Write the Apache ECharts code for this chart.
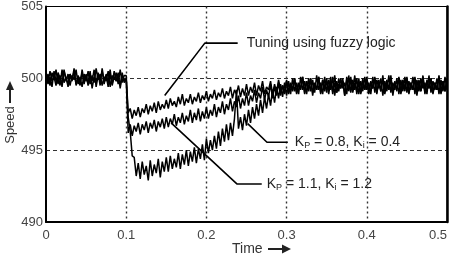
<!DOCTYPE html>
<html>
<head>
<meta charset="utf-8">
<script src="https://cdn.jsdelivr.net/npm/echarts@6/dist/echarts.min.js"></script>
<style>html,body{margin:0;padding:0;background:#fff}#c{width:454px;height:259px}</style>
</head>
<body>
<div id="c"></div>
<script>
// sample times (s)
var sampleTimes = [
0,0.0025,0.005,0.0075,0.01,0.0125,0.015,0.0175,0.02,0.0225,0.025,0.0275,0.03,0.0325,0.035,0.0375,0.04,0.0425,0.045,0.0475,
0.05,0.0525,0.055,0.0575,0.06,0.0625,0.065,0.0675,0.07,0.0725,0.075,0.0775,0.08,0.0825,0.085,0.0875,0.09,0.0925,0.095,0.0975,
0.1,0.1025,0.105,0.1075,0.11,0.1125,0.115,0.1175,0.12,0.1225,0.125,0.1275,0.13,0.1325,0.135,0.1375,0.14,0.1425,0.145,0.1475,
0.15,0.1525,0.155,0.1575,0.16,0.1625,0.165,0.1675,0.17,0.1725,0.175,0.1775,0.18,0.1825,0.185,0.1875,0.19,0.1925,0.195,0.1975,
0.2,0.2025,0.205,0.2075,0.21,0.2125,0.215,0.2175,0.22,0.2225,0.225,0.2275,0.23,0.2325,0.235,0.2375,0.24,0.2425,0.245,0.2475,
0.25,0.2525,0.255,0.2575,0.26,0.2625,0.265,0.2675,0.27,0.2725,0.275,0.2775,0.28,0.2825,0.285,0.2875,0.29,0.2925,0.295,0.2975,
0.3,0.3025,0.305,0.3075,0.31,0.3125,0.315,0.3175,0.32,0.3225,0.325,0.3275,0.33,0.3325,0.335,0.3375,0.34,0.3425,0.345,0.3475,
0.35,0.3525,0.355,0.3575,0.36,0.3625,0.365,0.3675,0.37,0.3725,0.375,0.3775,0.38,0.3825,0.385,0.3875,0.39,0.3925,0.395,0.3975,
0.4,0.4025,0.405,0.4075,0.41,0.4125,0.415,0.4175,0.42,0.4225,0.425,0.4275,0.43,0.4325,0.435,0.4375,0.44,0.4425,0.445,0.4475,
0.45,0.4525,0.455,0.4575,0.46,0.4625,0.465,0.4675,0.47,0.4725,0.475,0.4775,0.48,0.4825,0.485,0.4875,0.49,0.4925,0.495,0.4975,
0.5];
// speed, tuning using fuzzy logic
var speedFuzzy = [
500.2,499.7,500.5,499.8,500.1,499.5,500.4,500.0,499.6,500.6,499.8,500.3,499.5,500.2,499.9,500.6,499.6,500.1,499.4,500.3,
499.8,500.5,499.6,500.2,499.7,500.7,499.9,500.3,499.5,500.1,499.8,500.5,499.4,500.2,499.9,500.4,499.6,500.6,499.7,500.2,
500.2,497.6,497.9,497.2,497.8,497.4,498.0,497.3,497.9,497.6,498.2,497.5,498.1,497.7,498.3,497.6,498.4,497.8,498.2,497.9,
498.5,497.9,498.6,498.1,498.4,498.0,498.7,498.2,498.9,498.1,498.6,498.3,498.9,498.2,498.7,498.4,499.0,498.3,498.8,498.5,
499.1,498.4,498.9,498.6,499.2,498.5,499.0,498.7,499.3,498.6,499.1,498.8,499.4,498.6,499.2,498.9,499.5,498.7,499.3,498.8,
499.6,498.8,499.4,499.0,499.7,498.8,499.5,499.1,499.8,498.9,499.4,499.2,499.8,498.9,499.6,499.0,499.9,499.1,499.5,499.0,
499.9,499.0,499.7,499.2,500.0,498.9,499.6,499.3,500.1,499.0,499.8,499.1,500.0,498.8,499.7,499.2,500.1,499.0,499.9,499.3,
500.0,498.9,499.8,499.1,500.2,499.0,499.6,499.3,500.0,498.8,499.9,499.2,500.1,499.0,499.7,499.1,500.0,498.9,499.8,499.2,
500.1,499.0,499.7,499.3,500.0,498.9,499.9,499.1,500.2,499.0,499.6,499.2,500.0,498.8,499.8,499.1,500.1,499.0,499.9,499.3,
500.0,498.9,499.7,499.2,500.1,499.0,499.8,499.1,500.2,498.9,499.9,499.3,500.0,499.0,499.7,499.2,500.1,498.9,499.8,499.1,
500.0];
// speed, curve pointed at by "Kp = 1.1, Ki = 1.2"
var speedMid = [
499.7,500.3,499.5,500.4,499.9,500.6,499.6,500.2,499.4,500.5,500.0,499.6,500.3,499.8,500.7,499.5,500.2,499.7,500.4,499.6,
500.3,499.5,500.1,499.8,500.6,499.4,500.2,499.9,500.5,499.6,500.3,499.7,500.6,499.5,500.1,499.8,500.4,499.3,500.2,499.9,
499.9,496.2,496.8,496.0,496.7,496.3,496.9,496.1,496.8,496.4,497.0,496.2,496.9,496.5,497.1,496.3,497.0,496.6,497.2,496.5,
497.3,496.6,497.2,496.8,497.5,496.7,497.3,496.9,497.6,496.8,497.4,497.0,497.8,496.9,497.6,497.1,497.9,497.0,497.7,497.2,
498.0,497.2,497.8,497.4,498.2,497.3,498.0,497.6,498.4,497.5,498.2,497.8,498.6,497.7,498.4,498.0,498.8,497.9,498.6,498.1,
499.0,498.1,498.8,498.4,499.2,498.3,499.0,498.6,499.4,498.5,499.2,498.7,499.6,498.6,499.4,498.8,499.7,498.8,499.5,498.9,
499.8,498.9,499.6,499.1,500.0,499.0,499.7,499.2,500.1,498.9,499.8,499.3,500.0,499.0,499.6,499.2,500.1,498.9,499.9,499.1,
499.8,499.2,500.1,498.9,499.7,499.0,500.0,499.3,499.8,498.8,500.1,499.1,499.9,499.2,500.2,498.9,499.7,499.0,500.0,499.2,
499.9,498.9,499.8,499.3,500.1,499.0,499.7,499.1,500.0,498.9,499.9,499.2,500.2,499.0,499.6,499.3,500.0,498.9,499.8,499.1,
500.1,499.0,499.7,499.2,500.0,498.8,499.9,499.1,500.1,499.0,499.8,499.3,500.0,498.9,499.7,499.2,500.2,499.0,499.8,499.1,
499.9];
// speed, curve pointed at by "Kp = 0.8, Ki = 0.4"
var speedLow = [
500.4,499.6,500.1,499.4,500.5,499.8,500.2,499.5,500.6,499.7,500.1,499.4,500.3,499.9,500.5,499.6,500.0,499.5,500.6,499.8,
500.2,499.6,500.5,499.3,500.1,499.7,500.4,499.5,500.7,499.8,500.2,499.4,500.3,499.6,500.5,499.9,500.1,499.5,500.4,499.7,
500.0,497.3,496.3,494.6,494.5,493.2,494.1,493.0,494.2,493.3,493.9,492.9,494.3,493.2,494.0,493.4,494.4,493.1,494.2,493.5,
494.5,493.5,494.6,493.7,494.4,493.8,494.8,493.7,494.7,494.0,495.0,493.9,494.9,494.2,495.2,494.1,495.1,494.4,495.4,494.3,
495.8,494.8,495.7,495.0,496.0,495.1,496.3,495.3,496.5,495.6,496.8,495.7,496.9,496.0,497.2,499.2,496.5,497.3,496.4,497.5,
496.7,497.8,496.9,498.0,497.2,498.2,497.4,498.5,497.6,498.7,497.9,498.9,498.1,499.2,498.3,499.4,498.6,499.6,498.7,499.7,
498.8,499.8,498.9,500.0,499.1,499.7,498.9,500.1,499.2,499.8,498.9,500.0,499.1,499.9,499.0,500.2,499.2,499.7,498.9,500.1,
499.0,499.9,499.2,500.1,498.8,499.8,499.1,500.0,499.3,499.7,498.9,500.2,499.0,499.9,499.2,500.0,498.9,499.8,499.1,500.1,
499.2,499.7,498.9,500.1,499.0,499.9,499.3,500.0,498.8,499.8,499.1,500.2,499.0,499.7,499.2,500.0,498.9,499.9,499.1,500.1,
499.0,499.8,499.2,500.1,498.9,499.9,499.1,500.0,499.3,499.7,498.9,500.2,499.0,499.8,499.2,500.0,498.9,499.9,499.1,500.1,
499.2];
// annotation pointers (data coordinates)
var pointerFuzzy = [[0.148,498.8],[0.198,502.45],[0.239,502.45]];
var pointerKp11 = [[0.156,496.9],[0.238,492.65],[0.269,492.65]];
var pointerKp08 = [[0.2515,496.85],[0.2755,495.55],[0.3015,495.55]];
var labelFuzzy = 'Tuning using fuzzy logic';
var labelKp11 = '{k|K}{s|P} = 1.1, {k|K}{s|i} = 1.2';
var labelKp08 = '{k|K}{s|P} = 0.8, {k|K}{s|i} = 0.4';
var xTicks = {min:0, max:0.5, step:0.1};
var yTicks = {min:490, max:505, step:5};

[speedFuzzy,speedMid,speedLow].forEach(function(a){ if(a.length!==sampleTimes.length) throw new Error('length '+a.length+' vs '+sampleTimes.length); });

function pairs(vals){ return sampleTimes.map(function(t,i){ return [t, vals[i]]; }); }

var FONT = 'Liberation Sans';
var richStyles = {
  k:{fontFamily:FONT,fontSize:14,color:'#222'},
  s:{fontFamily:FONT,fontSize:9,color:'#222',verticalAlign:'bottom',padding:[7,0,0,0]}
};
function curve(vals){
  return {type:'line',data:pairs(vals),showSymbol:false,silent:true,sampling:null,
    lineStyle:{color:'#000',width:1.5},z:3,animation:false};
}
function pointer(pts,text,dist){
  return {type:'line',data:pts,showSymbol:false,silent:true,z:5,animation:false,
    lineStyle:{color:'#000',width:1.6},
    endLabel:{show:true,formatter:text,distance:dist,fontFamily:FONT,fontSize:14,color:'#222',rich:richStyles}};
}

var chart = echarts.init(document.getElementById('c'),null,{renderer:'canvas'});
chart.setOption({
  animation:false,
  backgroundColor:'#fff',
  grid:{left:46,top:6,right:7,bottom:37,show:true,borderColor:'#000',borderWidth:1},
  xAxis:{type:'value',min:xTicks.min,max:xTicks.max,interval:xTicks.step,
    axisLine:{show:true,lineStyle:{color:'#000',width:2}},axisTick:{show:false},
    axisLabel:{fontFamily:FONT,fontSize:13,color:'#444',margin:7,alignMaxLabel:'right',
      formatter:function(v){return String(Math.round(v*10)/10);}},
    splitLine:{show:true,showMinLine:false,showMaxLine:false,lineStyle:{color:'#333',width:1.4,type:[2,3]}}},
  yAxis:[{type:'value',min:yTicks.min,max:yTicks.max,interval:yTicks.step,
    axisLine:{show:true,lineStyle:{color:'#000',width:2}},axisTick:{show:false},
    axisLabel:{fontFamily:FONT,fontSize:13,color:'#444',margin:3},
    splitLine:{show:true,showMinLine:false,showMaxLine:false,lineStyle:{color:'#333',width:1.2,type:[4,3]}}},
    {type:'value',min:yTicks.min,max:yTicks.max,interval:yTicks.step,position:'right',
    axisLine:{show:true,lineStyle:{color:'#000',width:2.5}},axisTick:{show:false},axisLabel:{show:false},splitLine:{show:false}}],
  series:[curve(speedLow),curve(speedMid),curve(speedFuzzy),
    pointer(pointerFuzzy,labelFuzzy,9),pointer(pointerKp11,labelKp11,5),pointer(pointerKp08,labelKp08,7)],
  graphic:[
    {type:'text',x:10,y:125,rotation:Math.PI/2,style:{text:'Speed',fontFamily:FONT,fontSize:13,fill:'#333',align:'center',verticalAlign:'middle'}},
    {type:'line',shape:{x1:10,y1:103,x2:10,y2:88},style:{stroke:'#222',lineWidth:2}},
    {type:'polygon',shape:{points:[[6,90],[14,90],[10,81]]},style:{fill:'#222'}},
    {type:'text',x:232,y:249,style:{text:'Time',fontFamily:FONT,fontSize:14,fill:'#333',align:'left',verticalAlign:'middle'}},
    {type:'line',shape:{x1:268,y1:249,x2:284,y2:249},style:{stroke:'#222',lineWidth:2}},
    {type:'polygon',shape:{points:[[282,244.5],[282,253.5],[291,249]]},style:{fill:'#222'}}
  ]
});
</script>
</body>
</html>
